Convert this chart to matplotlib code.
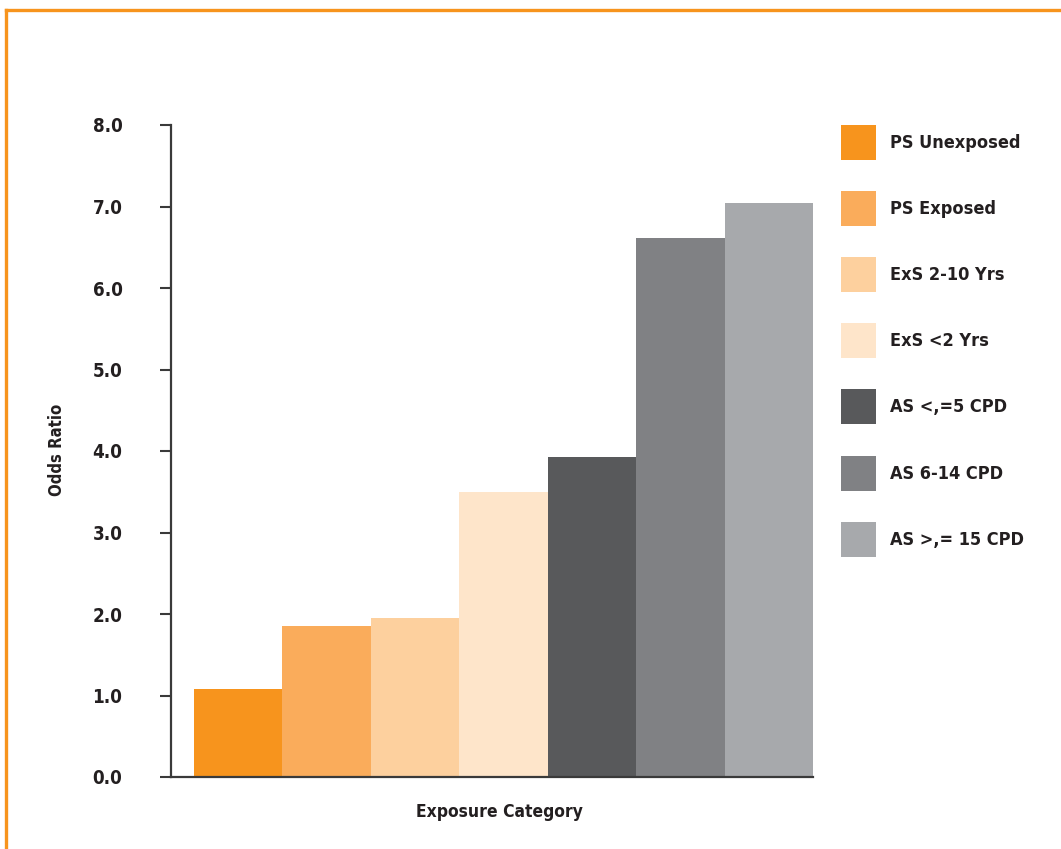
import matplotlib.pyplot as plt
from matplotlib.lines import Line2D
from matplotlib.patches import Patch

plt.rcParams['font.family'] = ['DejaVu Sans']
plt.rcParams['font.stretch'] = 'condensed'
plt.rcParams['font.weight'] = 'bold'

categories = ['PS Unexposed', 'PS Exposed', 'ExS 2-10 Yrs', 'ExS <2 Yrs',
              'AS <,=5 CPD', 'AS 6-14 CPD', 'AS >,= 15 CPD']
odds_ratio = [1.08, 1.85, 1.95, 3.50, 3.93, 6.61, 7.04]
colors = ['#F7941D', '#FAAC5B', '#FDD09E', '#FEE5CA', '#58595B', '#808184', '#A7A9AC']
yticks = [0, 1, 2, 3, 4, 5, 6, 7, 8]
ytick_labels = ['0.0', '1.0', '2.0', '3.0', '4.0', '5.0', '6.0', '7.0', '8.0']

fig = plt.figure(figsize=(10.61, 8.49), dpi=100)
ax = fig.add_axes([171 / 1061, 72 / 849, 642 / 1061, 652 / 849])

x = range(len(categories))
ax.bar(x, odds_ratio, width=1.0, color=colors, linewidth=0)

ax.set_xlim(-0.76, 6.5)
ax.set_ylim(0, 8)
ax.set_yticks(yticks)
ax.set_yticklabels(ytick_labels, fontsize=13.5, color='#231F20')
ax.set_xticks([])
ax.tick_params(axis='y', length=8, width=1.5, color='#3A3A3A', pad=27)

for s in ['top', 'right']:
    ax.spines[s].set_visible(False)
for s in ['left', 'bottom']:
    ax.spines[s].set_color('#3A3A3A')
    ax.spines[s].set_linewidth(1.6)

fig.text(57 / 1061, 1 - 450 / 849, 'Odds Ratio', rotation=90, ha='center', va='center',
         fontsize=12, color='#231F20')
fig.text(499 / 1061, 1 - 812 / 849, 'Exposure Category', ha='center', va='center',
         fontsize=12.5, color='#231F20')

handles = [Patch(facecolor=c, edgecolor='none') for c in colors]
leg = fig.legend(handles, categories, loc='upper left',
                 bbox_to_anchor=(841 / 1061, 1 - 125 / 849),
                 frameon=False, fontsize=13, borderpad=0, borderaxespad=0,
                 handlelength=1.94, handleheight=2.61, handletextpad=0.78,
                 labelspacing=1.72)
for t in leg.get_texts():
    t.set_color('#231F20')

# orange frame lines (top and left)
fig.add_artist(Line2D([5.5 / 1061, 1], [1 - 9.5 / 849, 1 - 9.5 / 849],
                      transform=fig.transFigure, color='#F7941D', linewidth=2.4))
fig.add_artist(Line2D([5.5 / 1061, 5.5 / 1061], [0, 1 - 9.5 / 849],
                      transform=fig.transFigure, color='#F7941D', linewidth=2.4))

fig.savefig('out.png', dpi=100)
